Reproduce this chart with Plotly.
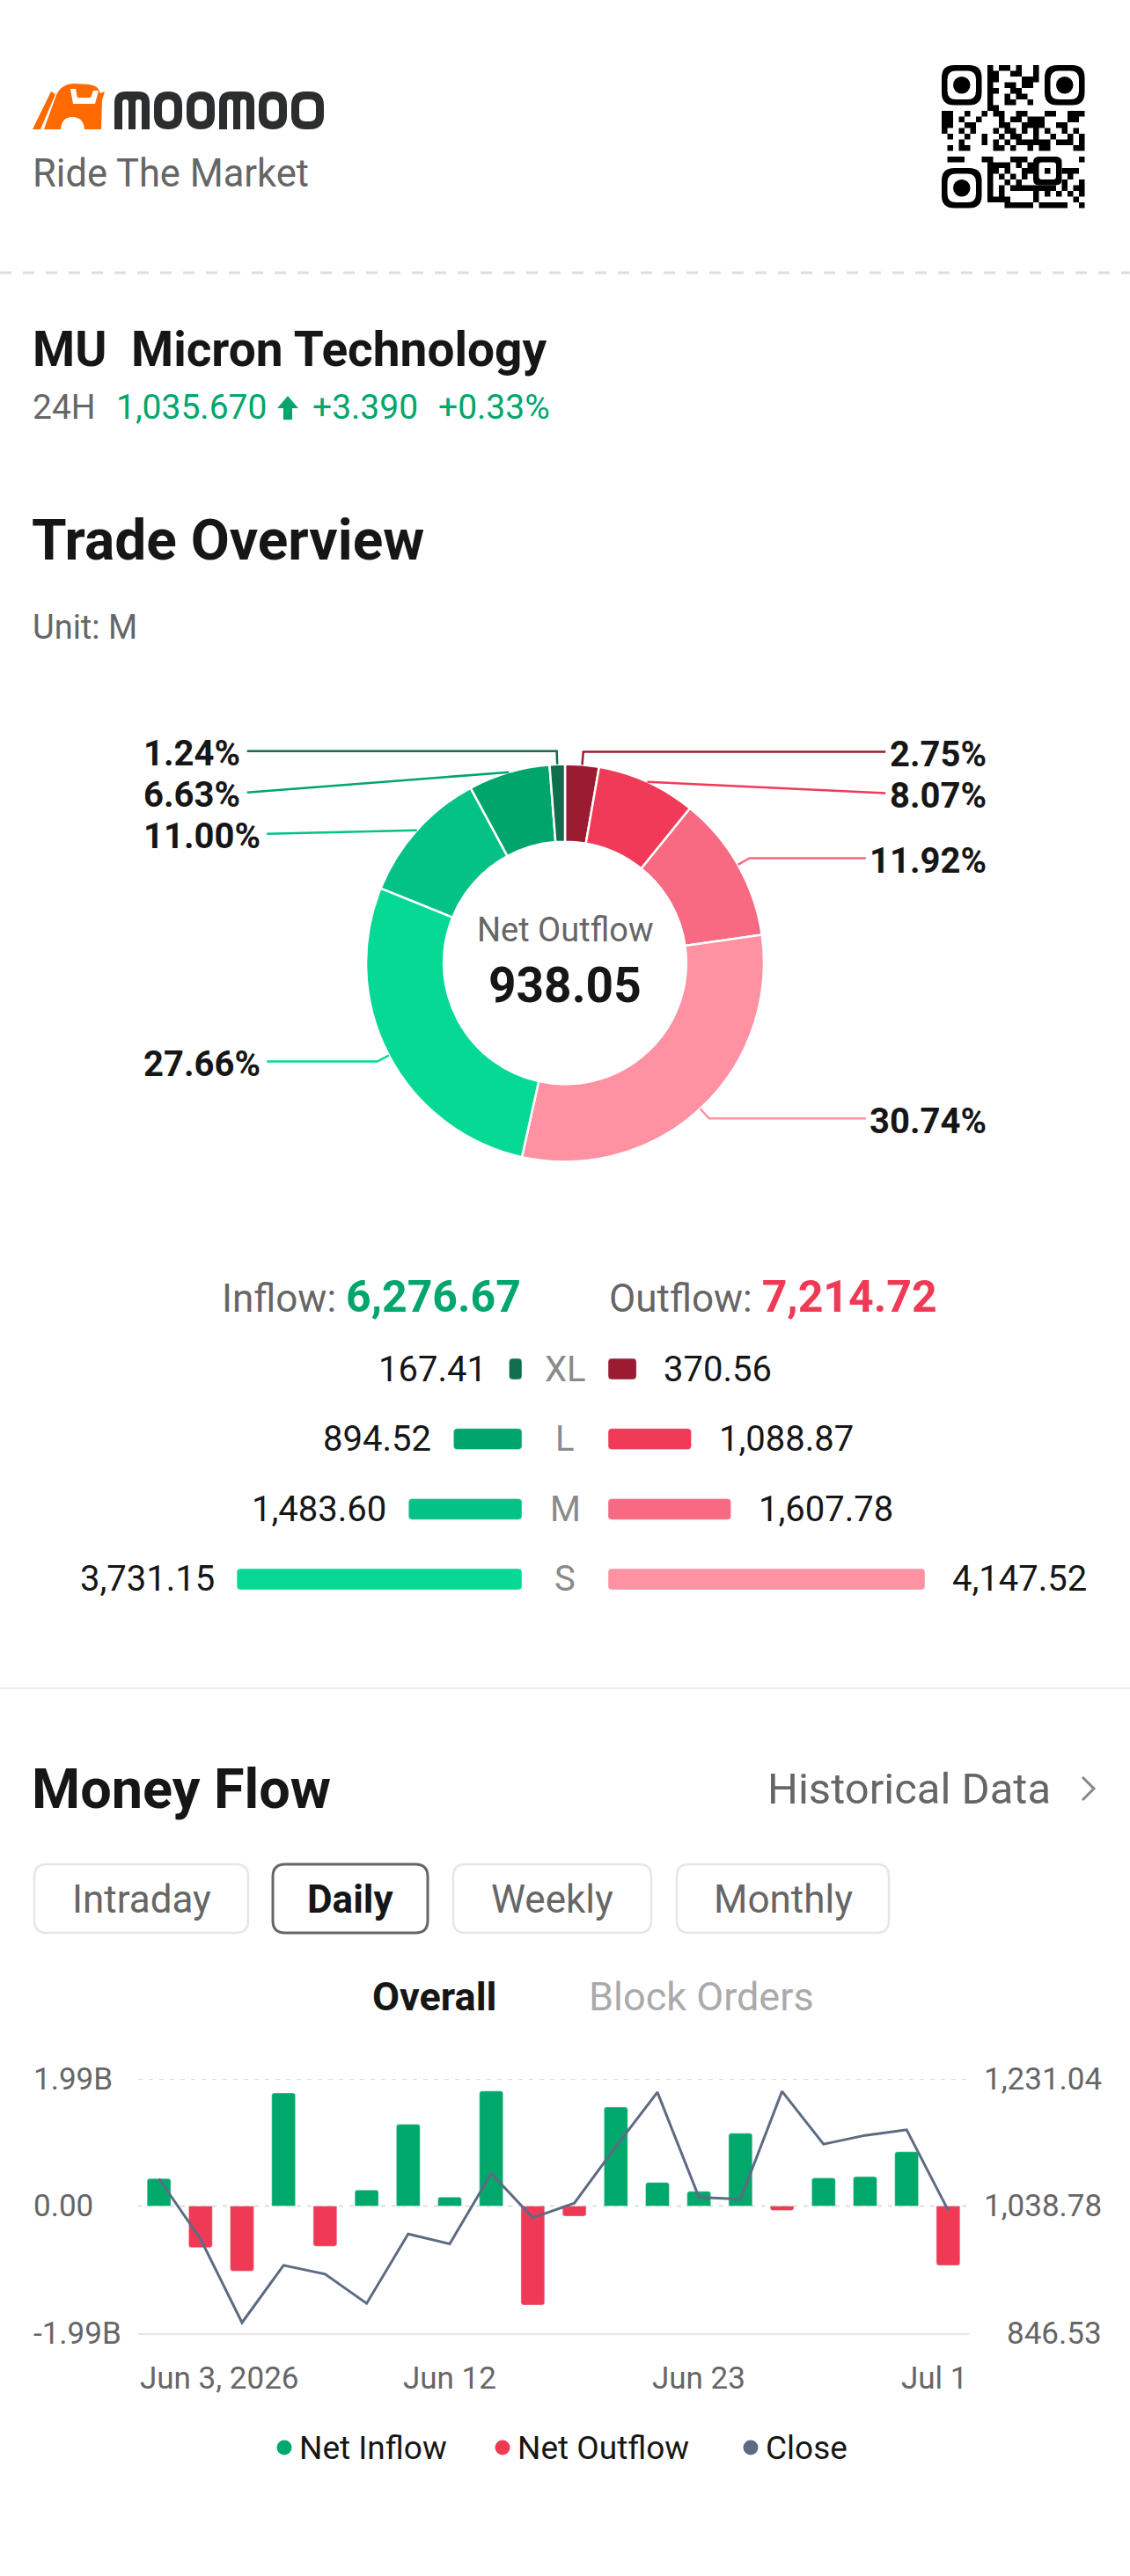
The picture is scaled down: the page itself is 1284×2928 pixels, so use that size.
import math
import pandas as pd
import plotly.graph_objects as go

W, H = 1284, 2928
FONT = "Roboto"
DARK = "#161616"
GRAY = "#666666"
LIGHT = "#aaaaaa"
GREEN = "#00a66b"
RED = "#f03a55"

# ---------------- data ----------------
ticker = "MU"
company = "Micron Technology"
last_price = 1035.670
price_change = 3.390
price_change_pct = 0.33

size_classes = ["XL", "L", "M", "S"]
inflow_m = [167.41, 894.52, 1483.60, 3731.15]
outflow_m = [370.56, 1088.87, 1607.78, 4147.52]
inflow_total_m = 6276.67
outflow_total_m = 7214.72
inflow_colors = ["#0f6e4c", "#00a56c", "#04c286", "#06d993"]
outflow_colors = ["#9b1c31", "#f03a58", "#f76a81", "#ff92a2"]

trade_dates = ["2026-06-03", "2026-06-04", "2026-06-05", "2026-06-08", "2026-06-09",
               "2026-06-10", "2026-06-11", "2026-06-12", "2026-06-15", "2026-06-16",
               "2026-06-17", "2026-06-18", "2026-06-22", "2026-06-23", "2026-06-24",
               "2026-06-25", "2026-06-26", "2026-06-29", "2026-06-30", "2026-07-01"]
net_flow_b = [0.43, -0.65, -1.02, 1.77, -0.63, 0.25, 1.28, 0.14, 1.80, -1.55,
              -0.16, 1.55, 0.37, 0.23, 1.14, -0.07, 0.44, 0.46, 0.85, -0.93]
close_price = [1080.0, 989.1, 862.5, 949.2, 935.9, 891.5, 996.6, 981.6, 1088.0, 1021.1,
               1043.2, 1128.8, 1210.9, 1052.1, 1049.0, 1212.2, 1132.4, 1145.7, 1154.1, 1032.28]
flow_axis_b = 1.99
close_axis = [846.53, 1231.04]
xtick_dates = ["2026-06-03", "2026-06-12", "2026-06-23", "2026-07-01"]
period_tabs = ["Intraday", "Daily", "Weekly", "Monthly"]
active_tab = "Daily"
legend_items = ["Net Inflow", "Net Outflow", "Close"]

# ---------------- helpers ----------------
shapes = []
anns = []


def txt(x, y, s, size, color=DARK, anchor="left", bold=False, xref="x4", yref="y4"):
    anns.append(dict(x=x, y=y, xref=xref, yref=yref, text=(f"<b>{s}</b>" if bold else s),
                     showarrow=False, xanchor=anchor, yanchor="middle", borderpad=0,
                     font=dict(family=FONT, size=size, color=color)))


def path(d, fill=None, line=None, lw=0):
    shapes.append(dict(type="path", path=d, xref="x4", yref="y4",
                       fillcolor=fill if fill else "rgba(0,0,0,0)",
                       line=dict(color=line if line else "rgba(0,0,0,0)", width=lw)))


def rrect(x0, y0, x1, y1, r):
    return (f"M{x0+r},{y0} L{x1-r},{y0} Q{x1},{y0} {x1},{y0+r} L{x1},{y1-r} Q{x1},{y1} {x1-r},{y1} "
            f"L{x0+r},{y1} Q{x0},{y1} {x0},{y1-r} L{x0},{y0+r} Q{x0},{y0} {x0+r},{y0} Z")


def toprect(x0, y0, x1, y1, r):
    return (f"M{x0},{y1} L{x0},{y0+r} Q{x0},{y0} {x0+r},{y0} L{x1-r},{y0} Q{x1},{y0} {x1},{y0+r} "
            f"L{x1},{y1} Z")


def bold_w(s, size):
    w = {".": 0.278, "%": 0.73, ",": 0.22}
    return sum(w.get(ch, 0.5615) for ch in s) * size


# ---------------- header ----------------
ORANGE = "#ff6a00"
path("M37,147 L46,147 L63,107 L58,104 Z", fill=ORANGE)
path("M50,147 L64,108 Q70,95 85,95 L101,96 Q112,97 114,106 L119,104 L116,114 L115,147 Z", fill=ORANGE)
path("M69,147 Q70,133 82,133 Q95,133 96,147 Z", fill="white")
path("M80,101 L86,101 L88,111 L103,111 L106,103 L112,103 L108,118 L83,118 Z", fill="white")
LOGO_DARK = "#2c2d2f"
letters = [("m", 130, 170), ("o", 175, 207), ("o", 212, 244), ("m", 249, 289), ("o", 294, 326), ("o", 331, 368)]
for kind, a, b in letters:
    if kind == "o":
        path(rrect(a, 104, b, 147, 16), fill=LOGO_DARK)
        path(rrect(a + 9, 113, b - 9, 138, 7), fill="white")
    else:
        path(toprect(a, 104, b, 147, 13), fill=LOGO_DARK)
        path(toprect(a + 9, 113, a + 16, 147, 3.5), fill="white")
        path(toprect(b - 16, 113, b - 9, 147, 3.5), fill="white")
txt(36, 197, "Ride The Market", 43.5, GRAY)

# QR code
qx, qy, qn, qm = 1070, 74, 25, 6.5
finders = [(0, 0), (0, 18), (18, 0)]


def in_finder(i, j):
    for fi, fj in finders:
        if fi - 1 <= i <= fi + 7 and fj - 1 <= j <= fj + 7:
            return True
    return 16 <= i <= 20 and 16 <= j <= 20


segs = []
for i in range(qn):
    run = None
    for j in range(qn + 1):
        on = j < qn and not in_finder(i, j) and ((i * 31 + j * 17 + i * j * 7 + (i ^ j)) % 11) < 5
        if on and run is None:
            run = j
        if not on and run is not None:
            x0, x1 = qx + run * qm, qx + j * qm
            y0, y1 = qy + i * qm, qy + (i + 1) * qm
            segs.append(f"M{x0},{y0} L{x1},{y0} L{x1},{y1} L{x0},{y1} Z")
            run = None
path(" ".join(segs), fill="black")
for fi, fj in finders:
    x0, y0 = qx + fj * qm, qy + fi * qm
    path(rrect(x0, y0, x0 + 7 * qm, y0 + 7 * qm, 2.2 * qm), fill="black")
    path(rrect(x0 + qm, y0 + qm, x0 + 6 * qm, y0 + 6 * qm, 1.5 * qm), fill="white")
    shapes.append(dict(type="circle", xref="x4", yref="y4", x0=x0 + 2 * qm, x1=x0 + 5 * qm,
                       y0=y0 + 2 * qm, y1=y0 + 5 * qm, fillcolor="black", line=dict(width=0)))
ax0, ay0 = qx + 16 * qm, qy + 16 * qm
path(rrect(ax0, ay0, ax0 + 5 * qm, ay0 + 5 * qm, qm), fill="black")
path(rrect(ax0 + qm, ay0 + qm, ax0 + 4 * qm, ay0 + 4 * qm, 0.5 * qm), fill="white")
shapes.append(dict(type="rect", xref="x4", yref="y4", x0=ax0 + 2 * qm, x1=ax0 + 3 * qm,
                   y0=ay0 + 2 * qm, y1=ay0 + 3 * qm, fillcolor="black", line=dict(width=0)))

shapes.append(dict(type="line", xref="x4", yref="y4", x0=0, x1=W, y0=310, y1=310,
                   line=dict(color="#dedede", width=3, dash="13px,13px")))

# stock line
txt(36, 397, ticker, 55, DARK, bold=True)
txt(148, 397, company, 55, DARK, bold=True)
txt(36, 463, "24H", 39, GRAY)
txt(131, 463, f"{last_price:,.3f}", 39, GREEN)
path("M327,450 L339,464 L332,464 L332,477 L322,477 L322,464 L315,464 Z", fill=GREEN)
txt(354, 463, f"+{price_change:.3f}", 39, GREEN)
txt(497, 463, f"+{price_change_pct:.2f}%", 39, GREEN)

# ---------------- trade overview ----------------
txt(35, 614, "Trade Overview", 64, DARK, bold=True)
txt(36, 713, "Unit: M", 38, GRAY)

cx, cy, r_out, hole = 642, 1094.5, 226, 0.61
pie_vals = outflow_m + inflow_m[::-1]
pie_cols = outflow_colors + inflow_colors[::-1]
pie_labels = [f"Outflow {c}" for c in size_classes] + [f"Inflow {c}" for c in size_classes[::-1]]
total = sum(pie_vals)

fig = go.Figure()
fig.add_trace(go.Pie(values=pie_vals, labels=pie_labels, sort=False, direction="clockwise", rotation=0,
                     hole=hole, textinfo="none", hoverinfo="skip", showlegend=False,
                     marker=dict(colors=pie_cols, line=dict(color="white", width=2.5)),
                     domain=dict(x=[(cx - r_out) / W, (cx + r_out) / W],
                                 y=[1 - (cy + r_out) / H, 1 - (cy - r_out) / H])))

net_out = outflow_total_m - inflow_total_m
txt(cx, 1057, "Net Outflow" if net_out >= 0 else "Net Inflow", 38, GRAY, anchor="center")
txt(cx, 1120, f"{abs(net_out):,.2f}", 55, DARK, anchor="center", bold=True)

# leader lines + percentage labels
L1, GAP, PCT_SIZE = 15, 47, 40
LEFT_X, RIGHT_X = 162, 1122
items = []
cum = 0.0
for i, v in enumerate(pie_vals):
    th = (cum + v / 2) / total * 2 * math.pi
    cum += v
    s, c = math.sin(th), math.cos(th)
    items.append(dict(side=1 if s > 0 else -1,
                      p0=(cx + r_out * s, cy - r_out * c),
                      el=(cx + (r_out + L1) * s, cy - (r_out + L1) * c),
                      text=f"{v / total * 100:.2f}%", color=pie_cols[i]))
for side in (1, -1):
    prev = -1e9
    for it in sorted([d for d in items if d["side"] == side], key=lambda d: d["el"][1]):
        it["y"] = max(it["el"][1], prev + GAP)
        prev = it["y"]
for it in items:
    tw = bold_w(it["text"], PCT_SIZE)
    ly = it["y"]
    if it["side"] < 0:
        end = LEFT_X + tw + 11
        txt(LEFT_X, ly + 3, it["text"], PCT_SIZE, DARK, bold=True)
    else:
        end = RIGHT_X - tw - 8
        txt(RIGHT_X, ly + 3, it["text"], PCT_SIZE, DARK, anchor="right", bold=True)
    p0, el = it["p0"], it["el"]
    if abs(ly - el[1]) < 0.5:
        d = f"M{p0[0]:.1f},{p0[1]:.1f} L{el[0]:.1f},{el[1]:.1f} L{end:.1f},{ly:.1f}"
    else:
        d = f"M{p0[0]:.1f},{p0[1]:.1f} L{end:.1f},{ly:.1f}"
    path(d, line=it["color"], lw=2.5)

# inflow / outflow totals
txt(593, 1474, f"Inflow: <b><span style='color:{GREEN};font-size:50px'>{inflow_total_m:,.2f}</span></b>",
    44, GRAY, anchor="right")
txt(691, 1474, f"Outflow: <b><span style='color:{RED};font-size:50px'>{outflow_total_m:,.2f}</span></b>",
    44, GRAY, anchor="left")

# size bars (axis x3/y3, in M units)
BAR_C, BAR_HALF_GAP_PX, MAX_BAR_PX = 642, 49, 360
k = MAX_BAR_PX / max(inflow_m + outflow_m)
gap_m = BAR_HALF_GAP_PX / k
fig.add_trace(go.Bar(y=size_classes, x=[-v for v in inflow_m], base=-gap_m, orientation="h", width=0.3,
                     marker=dict(color=inflow_colors, cornerradius=4), xaxis="x3", yaxis="y3",
                     showlegend=False, hoverinfo="skip"))
fig.add_trace(go.Bar(y=size_classes, x=outflow_m, base=gap_m, orientation="h", width=0.3,
                     marker=dict(color=outflow_colors, cornerradius=4), xaxis="x3", yaxis="y3",
                     showlegend=False, hoverinfo="skip"))
for cls, vi, vo in zip(size_classes, inflow_m, outflow_m):
    anns.append(dict(x=-gap_m - vi, y=cls, xref="x3", yref="y3", text=f"{vi:,.2f}", showarrow=False,
                     xanchor="right", yanchor="middle", xshift=-23,
                     font=dict(family=FONT, size=40, color=DARK)))
    anns.append(dict(x=gap_m + vo, y=cls, xref="x3", yref="y3", text=f"{vo:,.2f}", showarrow=False,
                     xanchor="left", yanchor="middle", xshift=29,
                     font=dict(family=FONT, size=40, color=DARK)))
    anns.append(dict(x=0, y=cls, xref="x3", yref="y3", text=cls, showarrow=False,
                     xanchor="center", yanchor="middle",
                     font=dict(family=FONT, size=40, color="#8a8a8a")))

shapes.append(dict(type="line", xref="x4", yref="y4", x0=0, x1=W, y0=1919, y1=1919,
                   line=dict(color="#ebebeb", width=2)))

# ---------------- money flow ----------------
txt(35, 2033, "Money Flow", 63, DARK, bold=True)
txt(1195, 2033, "Historical Data", 49, GRAY, anchor="right")
path("M1230,2020 L1243,2033 L1230,2046", line="#888888", lw=3)

tab_boxes = [(39, 282), (310, 486), (515, 740), (769, 1010)]
for name, (x0, x1) in zip(period_tabs, tab_boxes):
    act = name == active_tab
    path(rrect(x0, 2119, x1, 2197, 14), fill="white", line="#666666" if act else "#e6e6e6",
         lw=3 if act else 2.5)
    txt((x0 + x1) / 2, 2159, name, 44, DARK if act else GRAY, anchor="center", bold=act)
txt(493, 2269, "Overall", 45, DARK, anchor="center", bold=True)
txt(797, 2269, "Block Orders", 45, LIGHT, anchor="center")

X0, X1, YT, YB = 157, 1101, 2363, 2652
inflow_b = [v if v > 0 else None for v in net_flow_b]
outflow_b = [v if v < 0 else None for v in net_flow_b]
fig.add_trace(go.Bar(x=trade_dates, y=inflow_b, name="Net Inflow", marker=dict(color="#00a86b", cornerradius=3),
                     width=0.57, xaxis="x", yaxis="y", showlegend=False, hoverinfo="skip"))
fig.add_trace(go.Bar(x=trade_dates, y=outflow_b, name="Net Outflow", marker=dict(color="#f03a55", cornerradius=3),
                     width=0.57, xaxis="x", yaxis="y", showlegend=False, hoverinfo="skip"))
fig.add_trace(go.Scatter(x=trade_dates, y=close_price, name="Close", mode="lines",
                         line=dict(color="#5d6b82", width=3), xaxis="x", yaxis="y2",
                         showlegend=False, hoverinfo="skip"))

for yv in (flow_axis_b, 0):
    shapes.append(dict(type="line", xref="x domain", yref="y", x0=0, x1=1, y0=yv, y1=yv,
                       line=dict(color="#dddddd", width=2, dash="5px,7px"), layer="below"))

left_ticks = [flow_axis_b, 0, -flow_axis_b]
right_ticks = [close_axis[1], (close_axis[0] + close_axis[1]) / 2, close_axis[0]]
for lv, rv in zip(left_ticks, right_ticks):
    anns.append(dict(x=36, y=lv, xref="x4", yref="y", text=(f"{lv:.2f}B" if lv != 0 else "0.00"),
                     showarrow=False, xanchor="left", yanchor="middle",
                     font=dict(family=FONT, size=35, color=GRAY)))
    anns.append(dict(x=1254, y=lv, xref="x4", yref="y", text=f"{rv:,.2f}",
                     showarrow=False, xanchor="right", yanchor="middle",
                     font=dict(family=FONT, size=35, color=GRAY)))

n = len(trade_dates)
for j, dstr in enumerate(xtick_dates):
    d = pd.Timestamp(dstr)
    idx = trade_dates.index(dstr)
    label = f"{d:%b} {d.day}, {d.year}" if j == 0 else f"{d:%b} {d.day}"
    if j == 0:
        xpos, anc = -0.5, "left"
    elif j == len(xtick_dates) - 1:
        xpos, anc = n - 0.5, "right"
    else:
        xpos, anc = idx, "center"
    anns.append(dict(x=xpos, y=2703, xref="x", yref="y4", text=label, showarrow=False,
                     xanchor=anc, yanchor="middle", font=dict(family=FONT, size=35, color=GRAY)))

leg_cols = ["#00a86b", "#f03a55", "#5d6b82"]
leg_dot_x = [323, 571, 853]
for name, col, dx in zip(legend_items, leg_cols, leg_dot_x):
    shapes.append(dict(type="circle", xref="x4", yref="y4", x0=dx - 8.5, x1=dx + 8.5,
                       y0=2782 - 8.5, y1=2782 + 8.5, fillcolor=col, line=dict(width=0)))
    txt(dx + 16, 2782, name, 37, DARK)

# ---------------- layout ----------------
fig.update_layout(
    width=W, height=H, margin=dict(l=0, r=0, t=0, b=0),
    paper_bgcolor="white", plot_bgcolor="rgba(0,0,0,0)",
    barmode="overlay", showlegend=False,
    font=dict(family=FONT),
    xaxis=dict(type="category", domain=[X0 / W, X1 / W], range=[-0.5, n - 0.5], anchor="y",
               showticklabels=False, ticks="", showgrid=False, zeroline=False,
               showline=True, linecolor="#e6e6e6", linewidth=2, fixedrange=True),
    yaxis=dict(domain=[1 - YB / H, 1 - YT / H], range=[-flow_axis_b, flow_axis_b], anchor="x",
               showticklabels=False, showgrid=False, zeroline=False, fixedrange=True),
    yaxis2=dict(overlaying="y", side="right", range=close_axis, visible=False, fixedrange=True),
    xaxis3=dict(domain=[0, 1], range=[-BAR_C / k, (W - BAR_C) / k], anchor="y3", visible=False,
                fixedrange=True),
    yaxis3=dict(domain=[1 - (1795 + 39.8) / H, 1 - (1556 - 39.8) / H], type="category",
                categoryorder="array", categoryarray=size_classes, range=[3.5, -0.5],
                anchor="x3", visible=False, fixedrange=True),
    xaxis4=dict(domain=[0, 1], range=[0, W], anchor="y4", visible=False, fixedrange=True),
    yaxis4=dict(domain=[0, 1], range=[H, 0], anchor="x4", visible=False, fixedrange=True),
    shapes=shapes, annotations=anns,
)

fig.write_html("out.html", config={"displayModeBar": False})
